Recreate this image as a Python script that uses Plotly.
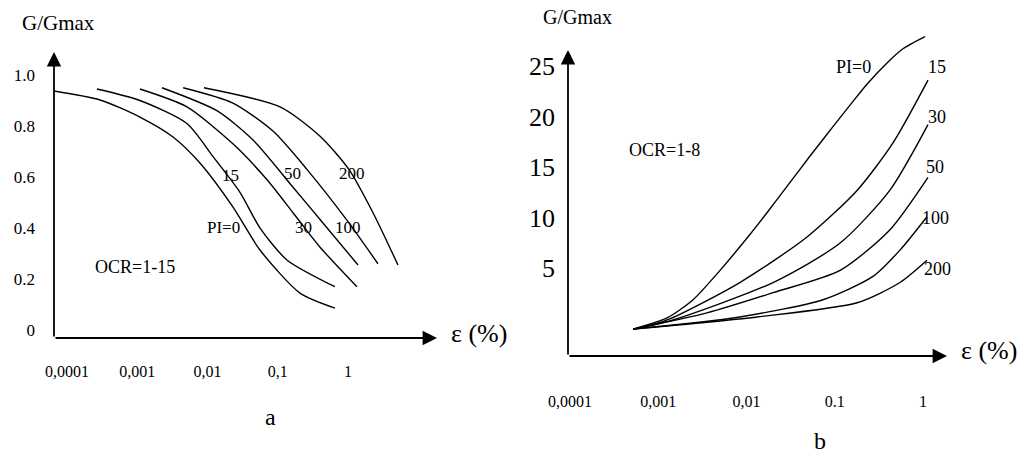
import plotly.graph_objects as go

# ---------------- data: panel a (G/Gmax vs strain, OCR=1-15) ----------------
a_pi0_x = [6.5e-5, 2.95e-4, 1.09e-3, 3.23e-3, 7.8e-3, 0.0231, 0.0558, 0.2075, 0.653]
a_pi0_y = [0.937, 0.902, 0.835, 0.757, 0.655, 0.482, 0.314, 0.145, 0.086]
a_pi15_x = [2.67e-4, 1.09e-3, 5.1e-3, 0.012, 0.029, 0.056, 0.135, 0.65]
a_pi15_y = [0.945, 0.90, 0.81, 0.68, 0.54, 0.40, 0.275, 0.17]
a_pi30_x = [1.09e-3, 5.1e-3, 0.023, 0.070, 0.165, 0.40, 1.34]
a_pi30_y = [0.945, 0.875, 0.73, 0.59, 0.46, 0.325, 0.17]
a_pi50_x = [2.25e-3, 0.0136, 0.0445, 0.165, 0.44, 1.39]
a_pi50_y = [0.95, 0.86, 0.745, 0.56, 0.42, 0.255]
a_pi100_x = [4.5e-3, 0.023, 0.0855, 0.26, 0.97, 2.67]
a_pi100_y = [0.95, 0.89, 0.78, 0.63, 0.43, 0.26]
a_pi200_x = [8.9e-3, 0.108, 0.40, 1.03, 2.27, 5.15]
a_pi200_y = [0.95, 0.875, 0.76, 0.63, 0.46, 0.255]

# ---------------- data: panel b (OCR=1-8) ----------------
b_pi0_x = [5.2e-4, 1.256e-3, 2.48e-3, 5.01e-3, 0.01014, 0.01706, 0.02877, 0.0525,
           0.0955, 0.161, 0.2317, 0.391, 0.593, 1.054]
b_pi0_y = [-1.0, 0.1, 1.9, 4.8, 8.0, 10.5, 13.1, 16.1, 19.0, 21.5, 23.2, 25.3, 26.7, 27.9]
b_pi15_x = [5.2e-4, 1.26e-3, 8.4e-3, 0.0485, 0.179, 0.457, 1.14]
b_pi15_y = [-1.0, -0.1, 3.6, 8.1, 12.7, 17.4, 23.6]
b_pi30_x = [5.2e-4, 1.47e-3, 0.020, 0.115, 0.42, 1.14]
b_pi30_y = [-1.0, -0.1, 3.6, 7.5, 12.7, 19.2]
b_pi50_x = [5.2e-4, 3.56e-3, 0.020, 0.115, 0.42, 1.14]
b_pi50_y = [-1.0, 0.6, 2.6, 4.8, 8.8, 14.0]
b_pi100_x = [5.2e-4, 8.4e-3, 0.0736, 0.271, 0.548, 1.11]
b_pi100_y = [-1.0, 0.2, 1.9, 4.2, 6.8, 10.1]
b_pi200_x = [5.2e-4, 0.0132, 0.179, 0.548, 1.11]
b_pi200_y = [-1.0, 0.2, 1.6, 3.6, 5.8]

strain_ticks = [1e-4, 1e-3, 1e-2, 1e-1, 1]
a_strain_text = ["0,0001", "0,001", "0,01", "0,1", "1"]
b_strain_text = ["0,0001", "0,001", "0,01", "0.1", "1"]
a_y_ticks = [0, 0.2, 0.4, 0.6, 0.8, 1.0]
a_y_text = ["0", "0.2", "0.4", "0.6", "0.8", "1.0"]
b_y_ticks = [5, 10, 15, 20, 25]
b_y_text = ["5", "10", "15", "20", "25"]

W, H = 1026, 459
FONT = "Liberation Serif"


def px(x):
    return x / W


def py(y):
    return 1 - y / H


fig = go.Figure()
line = dict(color="black", width=1.4, shape="spline", smoothing=0.7)
for xs, ys in [(a_pi0_x, a_pi0_y), (a_pi15_x, a_pi15_y), (a_pi30_x, a_pi30_y),
               (a_pi50_x, a_pi50_y), (a_pi100_x, a_pi100_y), (a_pi200_x, a_pi200_y)]:
    fig.add_trace(go.Scatter(x=xs, y=ys, mode="lines", line=line, xaxis="x", yaxis="y",
                             showlegend=False, hoverinfo="skip"))
for xs, ys in [(b_pi0_x, b_pi0_y), (b_pi15_x, b_pi15_y), (b_pi30_x, b_pi30_y),
               (b_pi50_x, b_pi50_y), (b_pi100_x, b_pi100_y), (b_pi200_x, b_pi200_y)]:
    fig.add_trace(go.Scatter(x=xs, y=ys, mode="lines", line=line, xaxis="x2", yaxis="y2",
                             showlegend=False, hoverinfo="skip"))

common = dict(showgrid=False, zeroline=False, showline=False, ticks="", ticklen=0,
              automargin=False, fixedrange=True)
fig.update_layout(
    template="none",
    width=W, height=H, autosize=False,
    margin=dict(l=0, r=0, t=0, b=0, pad=0),
    paper_bgcolor="white", plot_bgcolor="white",
    font=dict(family=FONT, color="black"),
    xaxis=dict(type="log", domain=[px(54), px(437)], range=[-4.185, 1.267],
               tickvals=strain_ticks, ticktext=a_strain_text,
               tickfont=dict(family=FONT, size=16), ticklabelstandoff=22, anchor="y", **common),
    yaxis=dict(domain=[py(338), py(52)], range=[-0.031, 1.09],
               tickvals=a_y_ticks, ticktext=a_y_text,
               tickfont=dict(family=FONT, size=17), ticklabelstandoff=18, anchor="x", **common),
    xaxis2=dict(type="log", domain=[px(568), px(947)], range=[-4.023, 0.272],
                tickvals=strain_ticks, ticktext=b_strain_text,
                tickfont=dict(family=FONT, size=16), ticklabelstandoff=34, anchor="y2", **common),
    yaxis2=dict(domain=[py(356), py(28)], range=[-3.66, 28.75],
                tickvals=b_y_ticks, ticktext=b_y_text,
                tickfont=dict(family=FONT, size=26), ticklabelstandoff=12, anchor="x2", **common),
)

anns = []
# axis arrows
for (x0, y0, x1, y1) in [(54, 338, 437, 338), (54, 338, 54, 52),
                         (568, 356, 947, 356), (568, 356, 568, 50)]:
    anns.append(dict(xref="paper", yref="paper", x=px(x1), y=py(y1),
                     axref="pixel", ayref="pixel", ax=x0 - x1, ay=y0 - y1,
                     showarrow=True, arrowhead=2, arrowsize=1.6, arrowwidth=1.8,
                     arrowcolor="black", standoff=0, startstandoff=0, text=""))


def label(text, x, y, size=16):
    anns.append(dict(xref="paper", yref="paper", x=px(x), y=py(y), text=text,
                     showarrow=False, xanchor="center", yanchor="middle",
                     font=dict(family=FONT, size=size, color="black")))


# panel a labels
label("G/Gmax", 58, 23, 21)
label("ε (%)", 479, 333, 26)
label("OCR=1-15", 135, 267, 18)
label("15", 230, 175, 17)
label("50", 292, 173, 17)
label("200", 352, 173, 17)
label("PI=0", 223, 227, 17)
label("30", 303, 227, 17)
label("100", 348, 227, 17)
label("a", 270, 417, 24)
# panel b labels
label("G/Gmax", 577, 17, 20)
label("ε (%)", 989, 350, 26)
label("OCR=1-8", 664, 150, 18)
label("PI=0", 853, 67, 18)
label("15", 937, 67, 18)
label("30", 937, 117, 18)
label("50", 935, 167, 18)
label("100", 935, 218, 18)
label("200", 937, 269, 18)
label("b", 820, 441, 24)

fig.update_layout(annotations=anns)
fig.write_html("out.html", config={"displayModeBar": False, "staticPlot": True},
               post_script="document.body.style.margin='0px';")
